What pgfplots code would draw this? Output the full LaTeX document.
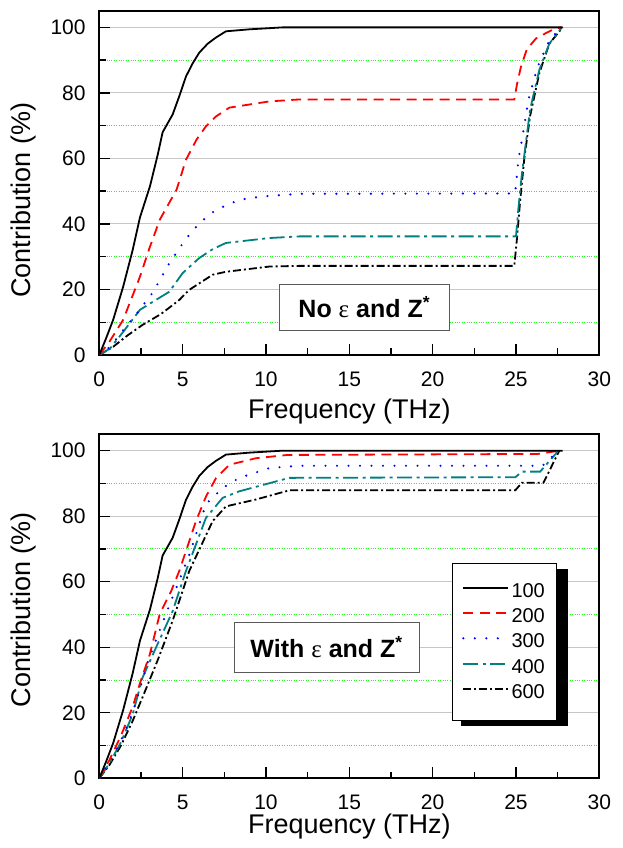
\documentclass[border=0pt]{standalone}
\usepackage{pgfplots}
\pgfplotsset{compat=1.18}
\usepackage{fontspec}
\setmainfont{Liberation Sans}
\newfontfamily\epsfont{Liberation Serif}
\definecolor{tealc}{RGB}{0,128,128}
\definecolor{gridgreen}{RGB}{30,250,30}
\definecolor{redc}{RGB}{255,0,0}
\definecolor{bluec}{RGB}{0,0,255}

\pgfplotstableread{
x y
0 0
0.4 5
0.83 10.7
1.43 20.8
2.0 32
2.44 42
3.04 51.5
3.5 61
3.8 68
4.4 73.4
4.8 79
5.2 85
5.6 89
6.0 92.3
6.5 95
7.0 96.9
7.6 98.8
9.0 99.4
11 100
27.8 100
}\tA
\pgfplotstableread{
x y
0 0
0.6 4
1.43 10.7
2.44 23.9
3.0 32.5
3.63 41.3
4.64 50.5
5.2 59.6
5.83 65.7
6.4 69.8
7.0 72.8
7.8 75.5
10.2 77.4
12 78
24.9 78
25.06 82.6
25.3 88
25.65 93.3
26.2 96.6
26.85 98.4
27.34 99.6
27.7 100
}\tB
\pgfplotstableread{
x y
0 0
0.65 2.5
1.5 8
2.3 13
3.2 19
4.2 28
5.0 34
5.6 38
6.4 42
7 44.3
8.4 47.4
9.8 48.4
12 49.2
24.95 49.3
25.15 59.6
25.5 70
25.75 78
26.3 88
27.0 96
27.7 100
}\tC
\pgfplotstableread{
x y
0 0
0.65 2
1.5 7.5
2.44 13.8
3.3 16.5
4.2 19.3
5.0 25
6.0 29.6
6.8 32.3
7.6 34.2
10.2 35.7
12 36.2
25.0 36.2
25.15 45
25.35 55
25.6 65
25.85 75
26.4 87
27.0 95
27.75 100
}\tD
\pgfplotstableread{
x y
0 0
0.83 2.5
1.7 6
2.6 9.2
3.7 12.5
4.8 16.8
5.4 19.9
6.8 24.5
7.6 25.4
10.2 27
12 27.2
24.9 27.2
25.05 35
25.25 47
25.5 60
25.85 73
26.4 86
27.0 95
27.8 100
}\tE

\pgfplotstableread{
x y
0 0
0.6 5.5
1.3 13
2.0 21.8
2.44 29
3.04 38
3.63 50.2
4.3 57
4.8 63.3
5.8 78.5
6.4 86
7.0 91.6
7.8 95.7
9.4 97.7
11.3 98.7
26.3 99
27.6 100
}\bB
\pgfplotstableread{
x y
0 0
0.6 5
1.3 11.5
2.0 20
2.94 36
4.0 50.2
5.42 68.5
6.4 83.7
7.4 88.6
8.4 91.7
10.2 94.7
12 95.4
26.6 95.4
27.55 100
}\bC
\pgfplotstableread{
x y
0 0
0.6 4.5
1.3 11
2.0 19.5
2.6 30.8
3.5 41
4.4 51
5.2 63.3
6.4 79.5
7.4 85.6
8.4 87.6
11.4 91.7
24.96 91.9
25.36 93.6
26.45 93.6
27.55 100
}\bD
\pgfplotstableread{
x y
0 0
0.6 4
1.3 10
2.0 17.5
2.6 24.8
3.5 36
4.4 48.1
5.4 63.3
6.8 78.5
7.6 83
9.4 85.1
11.4 87.9
24.96 87.9
25.35 90.2
26.65 90.2
27.6 100
}\bE

\pgfplotsset{
  mystyle/.style={
    scale only axis, width=500pt, height=344pt,
    xmin=0, xmax=30, ymin=0, ymax=105,
    xtick={0,5,...,30}, minor x tick num=1,
    ytick={0,20,...,100}, minor y tick num=1,
    tick align=inside, xtick pos=left, ytick pos=left,
    major tick length=11pt, minor tick length=6.5pt,
    axis line style={line width=2.2pt},
    every tick/.style={line width=1.4pt, black},
    ymajorgrids, yminorgrids,
    major grid style={black!22, line width=1pt},
    minor grid style={gridgreen, dotted, line width=1pt},
    tick label style={font=\fontsize{21}{24}\selectfont, inner sep=0pt},
    xticklabel style={yshift=-16.5pt},
    yticklabel style={xshift=-13.5pt},
    label style={font=\fontsize{27}{30}\selectfont, inner sep=0pt},
    /pgf/number format/assume math mode=true,
    xlabel={Frequency (THz)}, ylabel={Contribution (\%)},
  },
  s100/.style={black, line width=1.8pt, solid},
  s200/.style={redc, line width=1.8pt, dash pattern=on 10pt off 6.5pt},
  s300/.style={bluec, line width=2.4pt, line cap=round, dash pattern=on 0pt off 11.5pt},
  s400/.style={tealc, line width=1.8pt, dash pattern=on 15pt off 4.5pt on 3pt off 4.5pt},
  s600/.style={black, line width=1.8pt, dash pattern=on 8pt off 3pt on 2pt off 3pt},
}

\begin{document}
\begin{tikzpicture}
\useasboundingbox (0pt,0pt) rectangle (623pt,848pt);

\begin{axis}[mystyle, at={(99.3pt,493pt)}, anchor=south west,
  xlabel style={at={(axis description cs:0.5,-0.163)}, anchor=center},
  ylabel style={at={(axis description cs:-0.152,0.45)}, anchor=center}]
\addplot[s600] table {\tE};
\addplot[s400] table {\tD};
\addplot[s300] table {\tC};
\addplot[s200] table {\tB};
\addplot[s100] table {\tA};
\node[draw=black!65, line width=0.9pt, fill=white, minimum width=170.7pt, minimum height=45.7pt, inner sep=0pt, font=\fontsize{25}{28}\selectfont\bfseries]
  at (axis cs:15.9,14.6) {No {\mdseries\epsfont ε} and Z\textsuperscript{*}};
\end{axis}

\begin{axis}[mystyle, at={(99.3pt,69.7pt)}, anchor=south west,
  xlabel style={at={(axis description cs:0.5,-0.140)}, anchor=center},
  ylabel style={at={(axis description cs:-0.152,0.49)}, anchor=center},
  legend style={at={(axis description cs:0.7048,0.6268)}, anchor=north west,
    draw=black, line width=0.8pt, fill=white,
    font=\fontsize{20}{24}\selectfont,
    inner xsep=10pt, inner ysep=18.3pt, row sep=5.8pt,
    nodes={inner sep=2pt}},
  legend cell align=left,
  legend image code/.code={\draw[#1] (0pt,0.33em) -- (45pt,0.33em);},
  reverse legend]
\fill[black] (rel axis cs:0.7228,0.1529) rectangle (rel axis cs:0.938,0.6084);
\addplot[s600] table {\bE};
\addlegendentry{600}
\addplot[s400] table {\bD};
\addlegendentry{400}
\addplot[s300] table {\bC};
\addlegendentry{300}
\addplot[s200] table {\bB};
\addlegendentry{200}
\addplot[s100] table {\tA};
\addlegendentry{100}
\node[draw=black!65, line width=0.9pt, fill=white, minimum width=184.7pt, minimum height=50pt, inner sep=0pt, font=\fontsize{25}{28}\selectfont\bfseries]
  at (axis cs:13.64,40.0) {With {\mdseries\epsfont ε} and Z\textsuperscript{*}};
\end{axis}
\end{tikzpicture}
\end{document}
